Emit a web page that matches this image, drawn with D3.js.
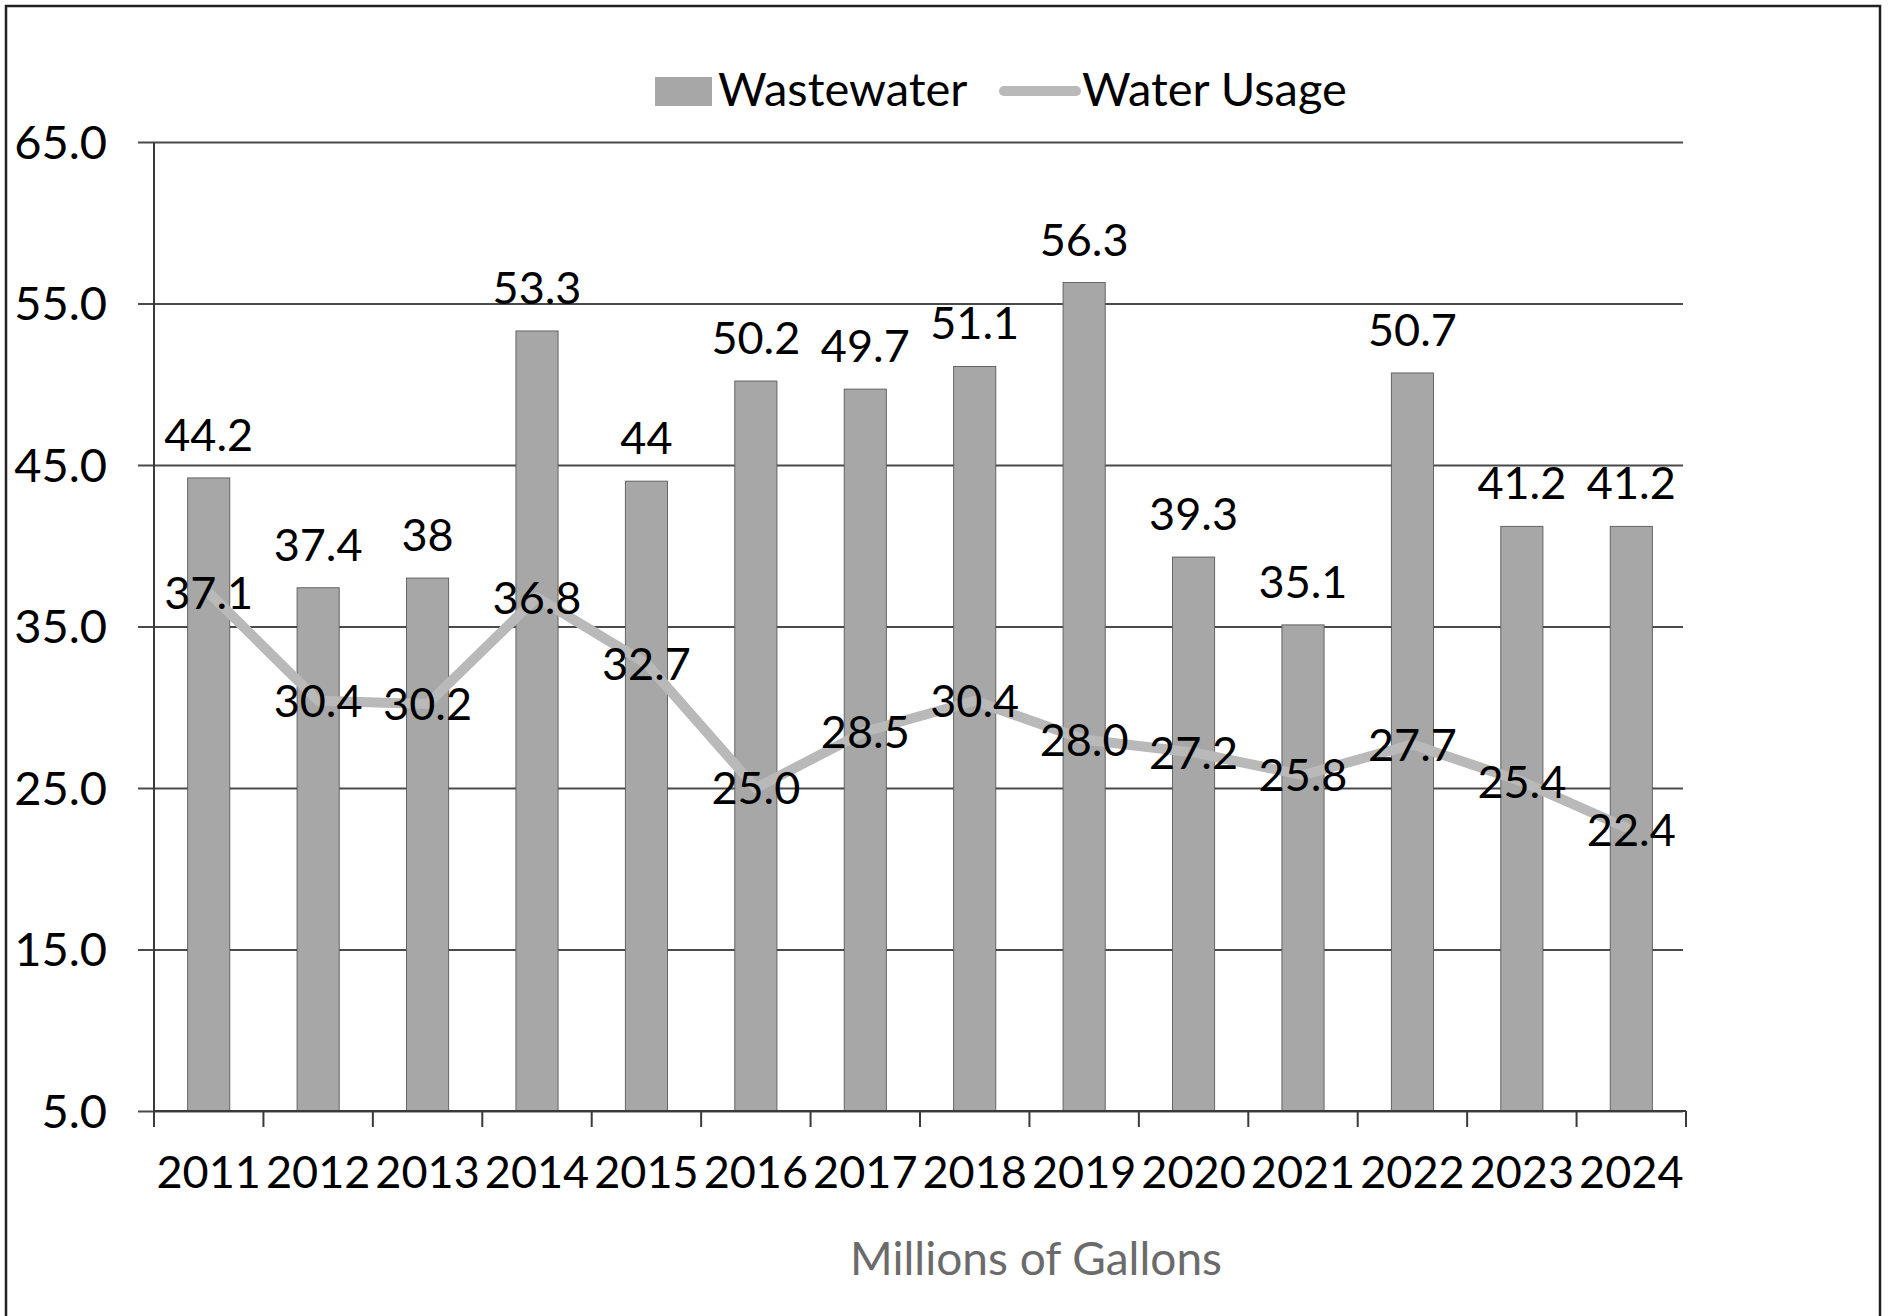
<!DOCTYPE html>
<html>
<head>
<meta charset="utf-8">
<script src="https://cdn.jsdelivr.net/npm/d3@7"></script>
<style>
    body { margin: 0; background: #fff; }
    #chart-area { width: 1891px; height: 1316px; }
    text { font-family: Lato, "Open Sans", sans-serif; }
</style>
</head>
<body>
<div id="chart-area"></div>
<script>
// chart values
let years = ["2011", "2012", "2013", "2014", "2015", "2016", "2017", "2018", "2019", "2020", "2021", "2022", "2023", "2024"];
let wastewater = [44.2, 37.4, 38, 53.3, 44, 50.2, 49.7, 51.1, 56.3, 39.3, 35.1, 50.7, 41.2, 41.2];
let waterUsage = [37.1, 30.4, 30.2, 36.8, 32.7, 25.0, 28.5, 30.4, 28.0, 27.2, 25.8, 27.7, 25.4, 22.4];
let seriesNames = ["Wastewater", "Water Usage"];
let yTicks = [5, 15, 25, 35, 45, 55, 65];
let axisTitle = "Millions of Gallons";

class ComboVis {
    constructor(parentElement) {
        this.parentElement = parentElement;
        this.initVis();
    }

    initVis() {
        let vis = this;

        vis.width = 1891;
        vis.height = 1316;
        vis.plot = {left: 154, right: 1686, top: 142, bottom: 1111};

        vis.svg = d3.select("#" + vis.parentElement).append("svg")
            .attr("width", vis.width)
            .attr("height", vis.height);

        // outer frame
        vis.svg.append("rect")
            .attr("x", 6).attr("y", 6)
            .attr("width", 1874).attr("height", 1330)
            .attr("fill", "none")
            .attr("stroke", "#222")
            .attr("stroke-width", 2.5);

        vis.x = d3.scaleBand()
            .domain(years)
            .range([vis.plot.left, vis.plot.right]);

        vis.y = d3.scaleLinear()
            .domain([d3.min(yTicks), d3.max(yTicks)])
            .range([vis.plot.bottom, vis.plot.top]);

        vis.updateVis();
    }

    updateVis() {
        let vis = this;
        let barW = vis.x.bandwidth() * 0.385;
        let cx = d => vis.x(d) + vis.x.bandwidth() / 2;

        // gridlines + y ticks
        vis.svg.append("g")
            .attr("transform", `translate(${vis.plot.left},0)`)
            .call(d3.axisLeft(vis.y)
                .tickValues(yTicks)
                .tickSize(-(vis.plot.right - vis.plot.left - 3))
                .tickFormat(""))
            .call(g => g.select(".domain").remove())
            .call(g => g.selectAll(".tick line")
                .attr("x1", -16)
                .attr("stroke", "#4a4a4a")
                .attr("stroke-width", 1.8));

        // y labels
        vis.svg.append("g")
            .selectAll("text")
            .data(yTicks)
            .join("text")
            .attr("x", 107)
            .attr("y", d => vis.y(d))
            .attr("dy", "0.36em")
            .attr("text-anchor", "end")
            .attr("font-size", 47)
            .attr("fill", "#000")
            .text(d3.format(".1f"));

        // bars
        vis.svg.append("g")
            .selectAll("rect")
            .data(years)
            .join("rect")
            .attr("x", (d) => cx(d) - barW / 2)
            .attr("y", (d, i) => vis.y(wastewater[i]))
            .attr("width", barW)
            .attr("height", (d, i) => vis.y(d3.min(yTicks)) - vis.y(wastewater[i]))
            .attr("fill", "#a7a7a7")
            .attr("stroke", "#5a5a5a")
            .attr("stroke-width", 0.9);

        // x axis with tick marks at band edges
        let xAxis = vis.svg.append("g")
            .attr("transform", `translate(0,${vis.plot.bottom})`);
        xAxis.append("line")
            .attr("x1", vis.plot.left).attr("x2", vis.plot.right)
            .attr("stroke", "#3a3a3a").attr("stroke-width", 2);
        xAxis.selectAll(".xtick")
            .data(years.concat(["end"]))
            .join("line")
            .attr("class", "xtick")
            .attr("x1", (d, i) => i < years.length ? vis.x(d) : vis.plot.right)
            .attr("x2", (d, i) => i < years.length ? vis.x(d) : vis.plot.right)
            .attr("y1", 0).attr("y2", 16)
            .attr("stroke", "#3a3a3a").attr("stroke-width", 2);
        xAxis.selectAll(".xlabel")
            .data(years)
            .join("text")
            .attr("class", "xlabel")
            .attr("x", cx)
            .attr("y", 77)
            .attr("text-anchor", "middle")
            .attr("font-size", 45)
            .attr("fill", "#000")
            .text(d => d);

        // y axis line
        vis.svg.append("line")
            .attr("x1", vis.plot.left).attr("x2", vis.plot.left)
            .attr("y1", vis.plot.top).attr("y2", vis.plot.bottom + 16)
            .attr("stroke", "#3a3a3a").attr("stroke-width", 2);

        // water usage line
        let line = d3.line()
            .x((d, i) => cx(years[i]))
            .y(d => vis.y(d));
        vis.svg.append("path")
            .datum(waterUsage)
            .attr("d", line)
            .attr("fill", "none")
            .attr("stroke", "#b9b9b9")
            .attr("stroke-width", 10)
            .attr("stroke-linejoin", "round");

        // bar value labels
        vis.svg.append("g")
            .selectAll("text")
            .data(wastewater)
            .join("text")
            .attr("x", (d, i) => cx(years[i]))
            .attr("y", d => vis.y(d) - 27)
            .attr("text-anchor", "middle")
            .attr("font-size", 45)
            .attr("fill", "#000")
            .text(d => d);

        // line value labels
        vis.svg.append("g")
            .selectAll("text")
            .data(waterUsage)
            .join("text")
            .attr("x", (d, i) => cx(years[i]))
            .attr("y", d => vis.y(d))
            .attr("dy", "0.36em")
            .attr("text-anchor", "middle")
            .attr("font-size", 45)
            .attr("fill", "#000")
            .text(d3.format(".1f"));

        // axis title
        vis.svg.append("text")
            .attr("x", 1036)
            .attr("y", 1275)
            .attr("text-anchor", "middle")
            .attr("font-size", 46)
            .attr("fill", "#6b6b6b")
            .text(axisTitle);

        // legend
        let legend = vis.svg.append("g");
        legend.append("rect")
            .attr("x", 655).attr("y", 77)
            .attr("width", 57).attr("height", 29)
            .attr("fill", "#a7a7a7");
        legend.append("text")
            .attr("x", 718).attr("y", 106)
            .attr("font-size", 47)
            .attr("fill", "#000")
            .text(seriesNames[0]);
        legend.append("line")
            .attr("x1", 1004).attr("x2", 1076)
            .attr("y1", 91).attr("y2", 91)
            .attr("stroke", "#b9b9b9")
            .attr("stroke-width", 10)
            .attr("stroke-linecap", "round");
        legend.append("text")
            .attr("x", 1082).attr("y", 106)
            .attr("font-size", 47)
            .attr("fill", "#000")
            .text(seriesNames[1]);
    }
}

new ComboVis("chart-area");
</script>
</body>
</html>
